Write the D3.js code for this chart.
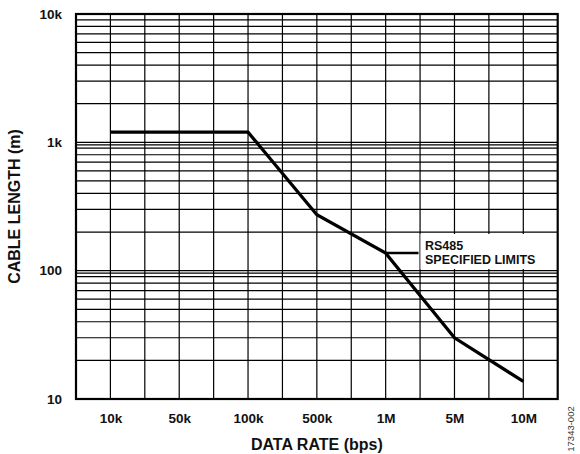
<!DOCTYPE html>
<html>
<head>
<meta charset="utf-8">
<script src="https://cdn.jsdelivr.net/npm/d3@7"></script>
<style>
  body { margin: 0; background: #fff; }
  svg { display: block; font-family: Arial, "Liberation Sans", Helvetica, sans-serif; }
  .grid line { stroke: #000; stroke-width: 1.2; }
  .tick-label { font-size: 13.5px; font-weight: bold; fill: #111; }
</style>
</head>
<body>
<svg width="580" height="454"></svg>
<script>
// x categories (equally spaced on the chart, not a true log axis)
const rateLabels = ["10k", "50k", "100k", "500k", "1M", "5M", "10M"];
// RS485 limit curve
const curveRates = ["10k", "100k", "500k", "1M", "5M", "10M"];
const curveLengths = [1200, 1200, 273, 137, 30, 13.7];
// y ticks
const lengthTicks = [10, 100, 1000, 10000];
const lengthLabels = ["10", "100", "1k", "10k"];

const plotLeft = 76, plotRight = 557.7, plotTop = 14, plotBottom = 399;

const svg = d3.select("svg");

const x = d3.scalePoint()
  .domain(rateLabels)
  .range([plotLeft, plotRight])
  .padding(0.5);

const y = d3.scaleLog()
  .domain([10, 10000])
  .range([plotBottom, plotTop]);

// vertical grid: on each category and halfway between
const half = x.step() / 2;
const vLines = [];
rateLabels.forEach((d, i) => {
  vLines.push(x(d));
  if (i < rateLabels.length - 1) vLines.push(x(d) + half);
});

const grid = svg.append("g").attr("class", "grid");

grid.selectAll(".v")
  .data(vLines)
  .enter().append("line")
  .attr("class", "v")
  .attr("x1", d => d).attr("x2", d => d)
  .attr("y1", plotTop).attr("y2", plotBottom);

// horizontal grid: every log tick (1..9 per decade)
grid.selectAll(".h")
  .data(y.ticks())
  .enter().append("line")
  .attr("class", "h")
  .attr("x1", plotLeft).attr("x2", plotRight)
  .attr("y1", d => y(d)).attr("y2", d => y(d));

// decade lines are drawn doubled in the original
grid.selectAll(".hd")
  .data(lengthTicks.slice(1, -1))
  .enter().append("line")
  .attr("class", "hd")
  .attr("x1", plotLeft).attr("x2", plotRight)
  .attr("y1", d => y(d) + 2.5).attr("y2", d => y(d) + 2.5);

// white box behind the annotation
svg.append("rect")
  .attr("x", 420.5).attr("y", 234)
  .attr("width", 126).attr("height", 35)
  .attr("fill", "#fff");

// frame
svg.append("rect")
  .attr("x", plotLeft).attr("y", plotTop)
  .attr("width", plotRight - plotLeft).attr("height", plotBottom - plotTop)
  .attr("fill", "none")
  .attr("stroke", "#000")
  .attr("stroke-width", 2.2);

// axes (labels only)
const yAxis = svg.append("g")
  .attr("transform", `translate(${plotLeft},0)`)
  .call(d3.axisLeft(y)
    .tickValues(lengthTicks)
    .tickFormat((d, i) => lengthLabels[i])
    .tickSize(0)
    .tickPadding(14));
yAxis.select(".domain").remove();
yAxis.selectAll("text").attr("class", "tick-label");

const xAxis = svg.append("g")
  .attr("transform", `translate(0,${plotBottom})`)
  .call(d3.axisBottom(x).tickSize(0).tickPadding(14.5));
xAxis.select(".domain").remove();
xAxis.selectAll("text").attr("class", "tick-label");

// curve
const line = d3.line()
  .x((d, i) => x(curveRates[i]))
  .y(d => y(d));

svg.append("path")
  .datum(curveLengths)
  .attr("d", line)
  .attr("fill", "none")
  .attr("stroke", "#000")
  .attr("stroke-width", 3.2);

// annotation
const ax = x("1M"), ay = y(curveLengths[3]);
svg.append("line")
  .attr("x1", ax).attr("x2", 418.5)
  .attr("y1", ay).attr("y2", ay)
  .attr("stroke", "#000")
  .attr("stroke-width", 2.5);

const noteLines = ["RS485", "SPECIFIED LIMITS"];
svg.selectAll(".note")
  .data(noteLines)
  .enter().append("text")
  .attr("class", "note")
  .attr("x", 425)
  .attr("y", (d, i) => 249.5 + i * 14)
  .attr("font-size", 12.5)
  .attr("font-weight", "bold")
  .attr("fill", "#111")
  .text(d => d);

// axis titles
svg.append("text")
  .attr("x", (plotLeft + plotRight) / 2)
  .attr("y", 449.5)
  .attr("text-anchor", "middle")
  .attr("font-size", 16)
  .attr("font-weight", "bold")
  .attr("fill", "#111")
  .text("DATA RATE (bps)");

svg.append("text")
  .attr("transform", `translate(19.5,${(plotTop + plotBottom) / 2}) rotate(-90)`)
  .attr("text-anchor", "middle")
  .attr("font-size", 16)
  .attr("font-weight", "bold")
  .attr("fill", "#111")
  .text("CABLE LENGTH (m)");

svg.append("text")
  .attr("transform", "translate(574,429) rotate(-90)")
  .attr("text-anchor", "middle")
  .attr("font-size", 9.5)
  .attr("fill", "#333")
  .text("17343-002");
</script>
</body>
</html>
